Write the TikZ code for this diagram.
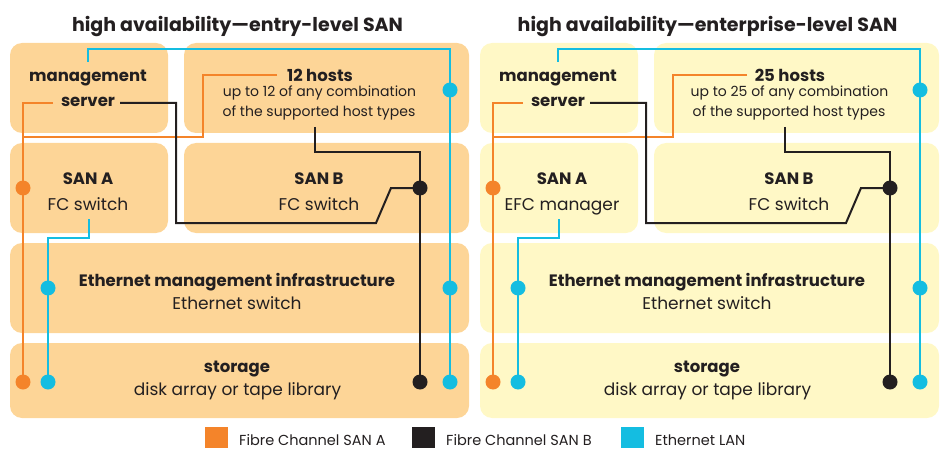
\documentclass[tikz,border=0pt]{standalone}
\usepackage{fontspec}
\setmainfont{Poppins}
\definecolor{peach}{HTML}{FDD597}
\definecolor{lemon}{HTML}{FFF8C6}
\definecolor{fcorange}{HTML}{F4842A}
\definecolor{fcblack}{HTML}{231F20}
\definecolor{lancyan}{HTML}{14BDE1}
\tikzset{
  panel/.style={rounded corners=12pt, inner sep=0pt},
  head/.style={anchor=base, inner sep=0pt, text=fcblack, font=\bfseries\fontsize{16.5}{16.5}\selectfont},
  sub/.style={anchor=base, inner sep=0pt, text=fcblack, font=\fontsize{17}{17}\selectfont},
  note/.style={anchor=base, inner sep=0pt, text=fcblack, font=\fontsize{14}{14}\selectfont},
  key/.style={anchor=base west, inner sep=0pt, text depth=0pt, text=fcblack, font=\fontsize{14.5}{14.5}\selectfont},
  wire/.style={line width=2pt},
}

\begin{document}
\begin{tikzpicture}[x=1pt, y=-1pt]
  \useasboundingbox (0,0) rectangle (944,449);

  \def \r {7.5pt} % dot radius

  \foreach \dx/\bg/\kind/\n/\ax/\sana in {0/peach/entry-level/12/88/FC switch, 470/lemon/enterprise-level/25/92/EFC manager}
  {
    \begin{scope}[xshift=\dx pt]
      \node[head, font=\bfseries\fontsize{19}{19}\selectfont] (title) at (237.5,32) {high availability---\kind\ SAN};

      % boxes
      \node[panel, fill=\bg, minimum width=158pt, minimum height=90pt] (ms) at (89,88) {};
      \node[panel, fill=\bg, minimum width=285pt, minimum height=90pt] (hosts) at (326.5,88) {};
      \node[panel, fill=\bg, minimum width=158pt, minimum height=90pt] (sana) at (89,188) {};
      \node[panel, fill=\bg, minimum width=285pt, minimum height=90pt] (sanb) at (326.5,188) {};
      \node[panel, fill=\bg, minimum width=459pt, minimum height=90pt] (eth) at (239.5,288) {};
      \node[panel, fill=\bg, minimum width=459pt, minimum height=75pt] (stor) at (239.5,380.5) {};

      \node[head] (mgmt) at (88,82) {management};
      \node[head] (srv) at (88,107) {server};
      \node[head] (nh) at (320,82) {\n\ hosts};
      \node[note] (up) at (319.5,97) {up to \n\ of any combination};
      \node[note] (types) at (319,117) {of the supported host types};
      \node[head] (sanat) at (\ax,185) {SAN A};
      \node[sub] (sanas) at (\ax,210) {\sana};
      \node[head] (sanbt) at (319,185) {SAN B};
      \node[sub] (sanbs) at (319,210) {FC switch};
      \node[head] (etht) at (237,286) {Ethernet management infrastructure};
      \node[sub] (eths) at (237,309) {Ethernet switch};
      \node[head] (stort) at (237,372) {storage};
      \node[sub] (stors) at (237.5,395) {disk array or tape library};

      % Ethernet LAN
      \coordinate (lm) at (88,62);
      \coordinate (ltop) at (450,49);
      \coordinate (lh) at (450,90);
      \coordinate (le) at (450,288);
      \coordinate (ls) at (450,382);
      \coordinate (la) at (89,219);
      \coordinate (lb) at (48,238);
      \coordinate (le2) at (48,288);
      \coordinate (ls2) at (48,382);
      \draw[wire, lancyan] (lm) |- (ltop) -- (ls);
      \draw[wire, lancyan] (la) |- (lb) -- (ls2);

      % SAN A
      \coordinate (fa) at (53,103);
      \coordinate (fad) at (23,188);
      \coordinate (fas) at (23,382);
      \coordinate (fh) at (277,75);
      \coordinate (fhb) at (203,137);
      \coordinate (fj) at (23,137);
      \draw[wire, fcorange] (fa) -| (fas);
      \draw[wire, fcorange] (fh) -| (fhb) -- (fj);

      % SAN B
      \coordinate (fb) at (120,103);
      \coordinate (fb2) at (176,223);
      \coordinate (fb3) at (376,223);
      \coordinate (fb4) at (391,188);
      \coordinate (fbd) at (420,188);
      \coordinate (fbs) at (420,382);
      \coordinate (fbh) at (315,127);
      \coordinate (fbt) at (420,152);
      \draw[wire, fcblack] (fb) -| (fb2) -- (fb3) -- (fb4) -- (fbd);
      \draw[wire, fcblack] (fbh) |- (fbt) -- (fbs);

      \foreach \p in {lh, le, ls, le2, ls2}
        \fill[lancyan] (\p) circle[radius=\r];
      \foreach \p in {fad, fas}
        \fill[fcorange] (\p) circle[radius=\r];
      \foreach \p in {fbd, fbs}
        \fill[fcblack] (\p) circle[radius=\r];
    \end{scope}
  }

  % legend
  \foreach \x/\c/\t in {205/fcorange/Fibre Channel SAN A, 412/fcblack/Fibre Channel SAN B, 621/lancyan/Ethernet LAN}
  {
    \node[fill=\c, minimum width=23pt, minimum height=21pt, inner sep=0pt] (sw\x) at (\x+11.5,437.5) {};
    \node[key] (key\x) at (\x+34,445) {\t};
  }
\end{tikzpicture}
\end{document}
